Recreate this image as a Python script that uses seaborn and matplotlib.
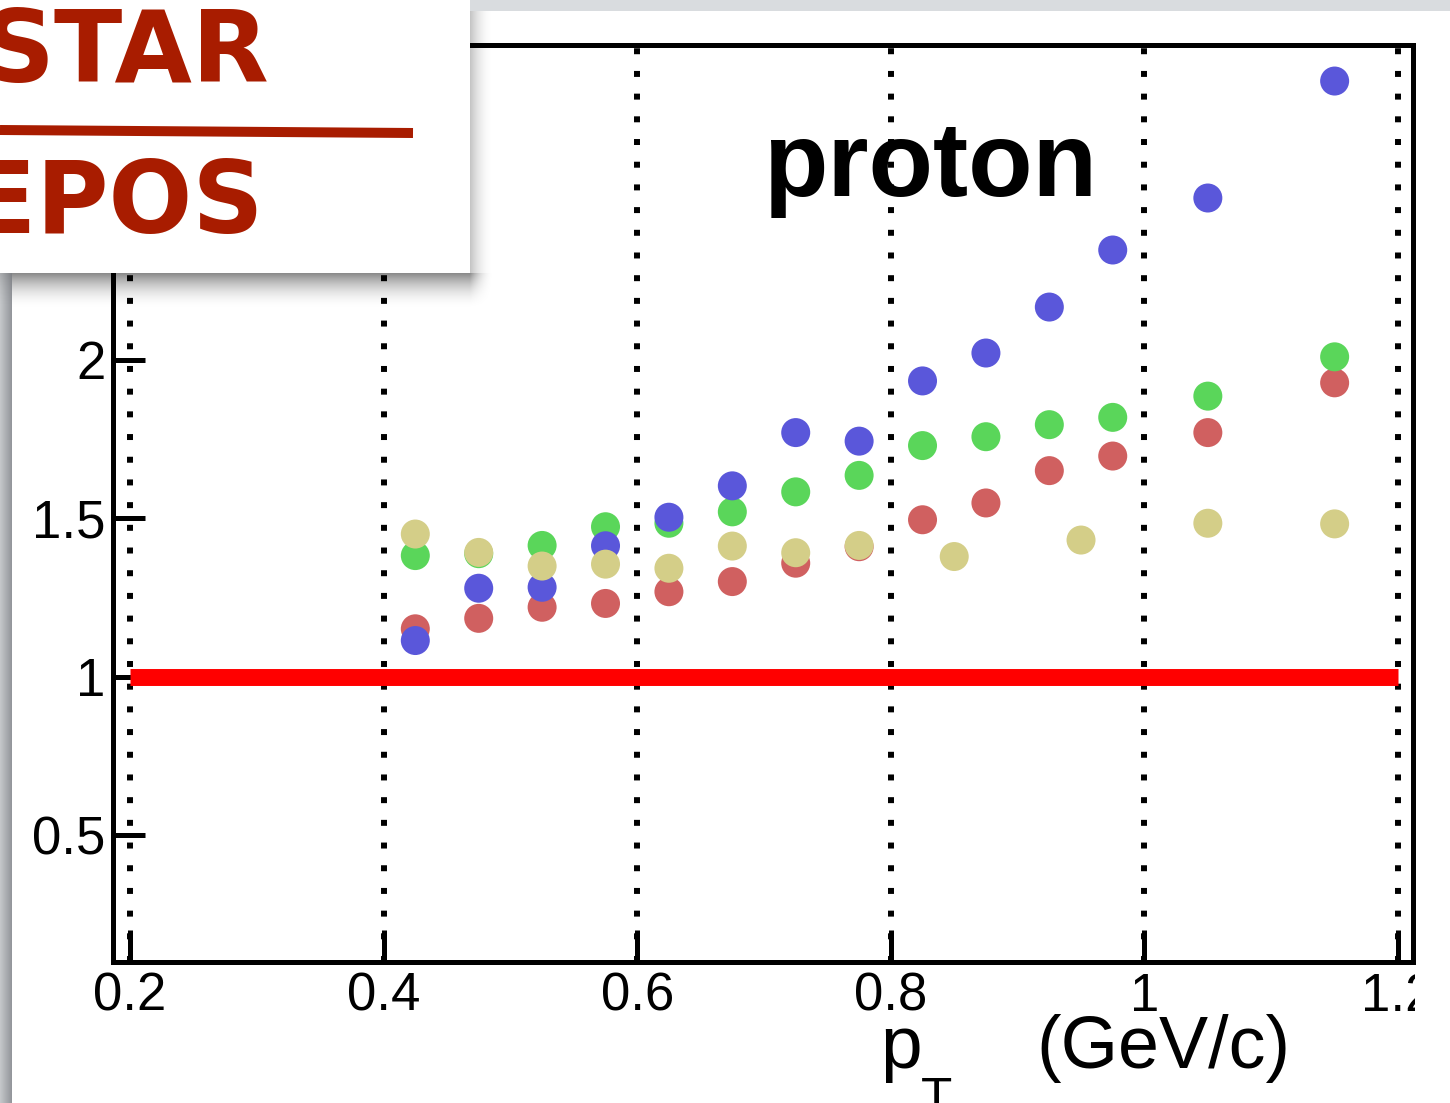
import numpy as np
import pandas as pd
import matplotlib
matplotlib.use("Agg")
import matplotlib.pyplot as plt
from matplotlib.patches import Rectangle
import seaborn as sns

# ---------------- data ----------------
pt_main = [0.425, 0.475, 0.525, 0.575, 0.625, 0.675, 0.725, 0.775,
           0.825, 0.875, 0.925, 0.975, 1.05, 1.15]
ratio_blue = [1.115, 1.280, 1.283, 1.414, 1.504, 1.603, 1.771, 1.744,
              1.934, 2.022, 2.167, 2.347, 2.511, 2.880]
ratio_green = [1.383, 1.389, 1.415, 1.474, 1.485, 1.521, 1.584, 1.636,
               1.730, 1.758, 1.796, 1.819, 1.886, 2.010]
ratio_red = [1.152, 1.185, 1.220, 1.232, 1.269, 1.301, 1.359, 1.411,
             1.496, 1.549, 1.651, 1.697, 1.771, 1.928]
pt_khaki = [0.425, 0.475, 0.525, 0.575, 0.625, 0.675, 0.725, 0.775,
            0.85, 0.95, 1.05, 1.15]
ratio_khaki = [1.451, 1.393, 1.350, 1.356, 1.343, 1.413, 1.392, 1.415,
               1.380, 1.432, 1.485, 1.483]

ref_x = [0.2, 1.2]
ref_y = [1.0, 1.0]

x_ticks = [0.2, 0.4, 0.6, 0.8, 1.0, 1.2]
x_ticklabels = ["0.2", "0.4", "0.6", "0.8", "1", "1.2"]
y_ticks = [0.5, 1.0, 1.5, 2.0, 2.5]
y_ticklabels = ["0.5", "1", "1.5", "2", "2.5"]

series_order = ["red", "green", "blue", "khaki"]
palette = {"red": "#D06060", "green": "#5AD65A", "blue": "#5A57DA", "khaki": "#D4CE88"}

# ---------------- style ----------------
sns.set_style("white")
plt.rcParams["font.family"] = ["Liberation Sans", "DejaVu Sans"]

W, H = 1450, 1103
fig = plt.figure(figsize=(W / 100, H / 100), dpi=100)
fig.patch.set_facecolor("white")

# main axes (pixel geometry of the reference frame)
ax = fig.add_axes([112.5 / W, (H - 962) / H, 1300 / W, 917 / H])
ax.set_facecolor("white")

frames = [
    pd.DataFrame({"pt": pt_main, "ratio": ratio_red, "series": "red"}),
    pd.DataFrame({"pt": pt_main, "ratio": ratio_green, "series": "green"}),
    pd.DataFrame({"pt": pt_main, "ratio": ratio_blue, "series": "blue"}),
    pd.DataFrame({"pt": pt_khaki, "ratio": ratio_khaki, "series": "khaki"}),
]
df = pd.concat(frames, ignore_index=True)

# dotted vertical grid lines
for xv in x_ticks:
    ax.axvline(xv, color="black", lw=4.3, ls=(0, (1, 2.8)),
               dash_capstyle="butt", zorder=1)

# reference line at 1
ax.plot(ref_x, ref_y, color="#FF0000", lw=12.2, solid_capstyle="butt", zorder=2)

sns.scatterplot(data=df, x="pt", y="ratio", hue="series", hue_order=series_order,
                palette=palette, s=436, linewidth=0, legend=False, ax=ax, zorder=3)

ax.set_xlim(0.1862, 1.2114)
ax.set_ylim(0.1009, 2.9937)
ax.set_xticks(x_ticks)
ax.set_xticklabels(x_ticklabels)
ax.set_yticks(y_ticks)
ax.set_yticklabels(y_ticklabels)
ax.set_xlabel("")
ax.set_ylabel("")
ax.tick_params(axis="both", which="major", direction="in", length=23, width=3.6,
               labelsize=38, colors="black", bottom=True, left=True,
               top=False, right=False)
ax.tick_params(axis="x", pad=7)
ax.tick_params(axis="y", pad=5)
for sp in ax.spines.values():
    sp.set_visible(True)
    sp.set_linewidth(3.6)
    sp.set_color("black")

# ---------------- overlay (slide decoration) ----------------
ov = fig.add_axes([0, 0, 1, 1], zorder=10)
ov.patch.set_visible(False)
ov.axis("off")

# left grey strip
grad = np.linspace(0, 1, 12)
c0 = np.array([0.77, 0.78, 0.79])
c1 = np.array([0.58, 0.59, 0.61])
strip = (c0[None, :] * (1 - grad[:, None]) + c1[None, :] * grad[:, None])[None, :, :]
ov.imshow(strip, extent=(0, 12, H, 0), aspect="auto", interpolation="bilinear", zorder=1)

# top grey strip
ov.add_patch(Rectangle((470, 0), W - 470, 11, facecolor="#D9DCDF", edgecolor="none", zorder=1))

# shadow around the white box
xs = np.arange(0, 500) + 0.5
ys = np.arange(0, 320) + 0.5
X, Y = np.meshgrid(xs, ys)
dy = Y - 273
dx = X - 470
fb = 0.47 * np.clip(1 - dy / 37.0, 0, 1) ** 2
gr = 0.24 * np.clip(1 - dx / 24.0, 0, 1) ** 2
alpha = np.zeros_like(X)
below = (dy > 0) & (dx <= 0)
right = (dx > 0) & (dy <= 0)
corner = (dx > 0) & (dy > 0)
alpha[below] = fb[below]
alpha[right] = gr[right]
alpha[corner] = fb[corner] * np.clip(1 - dx[corner] / 24.0, 0, 1) ** 2
alpha[:, :12][Y[:, :12] > 273] *= 0.3
alpha[Y < 11] = 0
shadow = np.zeros(X.shape + (4,))
shadow[..., 3] = alpha
ov.imshow(shadow, extent=(0, 500, 320, 0), aspect="auto", interpolation="bilinear", zorder=2)

# white box
ov.add_patch(Rectangle((0, 0), 470, 273, facecolor="white", edgecolor="none", zorder=3))

dark_red = "#A81C00"
ov.text(270, 82, "STAR", ha="right", va="baseline", fontsize=72, fontweight="bold",
        family="DejaVu Sans", color=dark_red, zorder=4)
ov.text(264, 233, "EPOS", ha="right", va="baseline", fontsize=71, fontweight="bold",
        family="DejaVu Sans", color=dark_red, zorder=4)
ov.plot([0, 413], [130, 133], color=dark_red, lw=7.2, solid_capstyle="butt", zorder=4)

# panel label
ov.text(930, 196, "proton", ha="center", va="baseline", fontsize=76,
        fontweight="bold", color="black", zorder=4)

# axis title
ov.text(880, 1068, "p", ha="left", va="baseline", fontsize=54, color="black", zorder=4)
ov.text(921, 1114, "T", ha="left", va="baseline", fontsize=37, color="black", zorder=4)
ov.text(1036, 1068, "(GeV/c)", ha="left", va="baseline", fontsize=53, color="black", zorder=4)

# white cover at the right edge (clips the last tick label)
ov.add_patch(Rectangle((1415, 966), W - 1415, H - 966, facecolor="white",
                       edgecolor="none", zorder=5))

ov.set_xlim(0, W)
ov.set_ylim(H, 0)

fig.savefig("out.png", dpi=100)
